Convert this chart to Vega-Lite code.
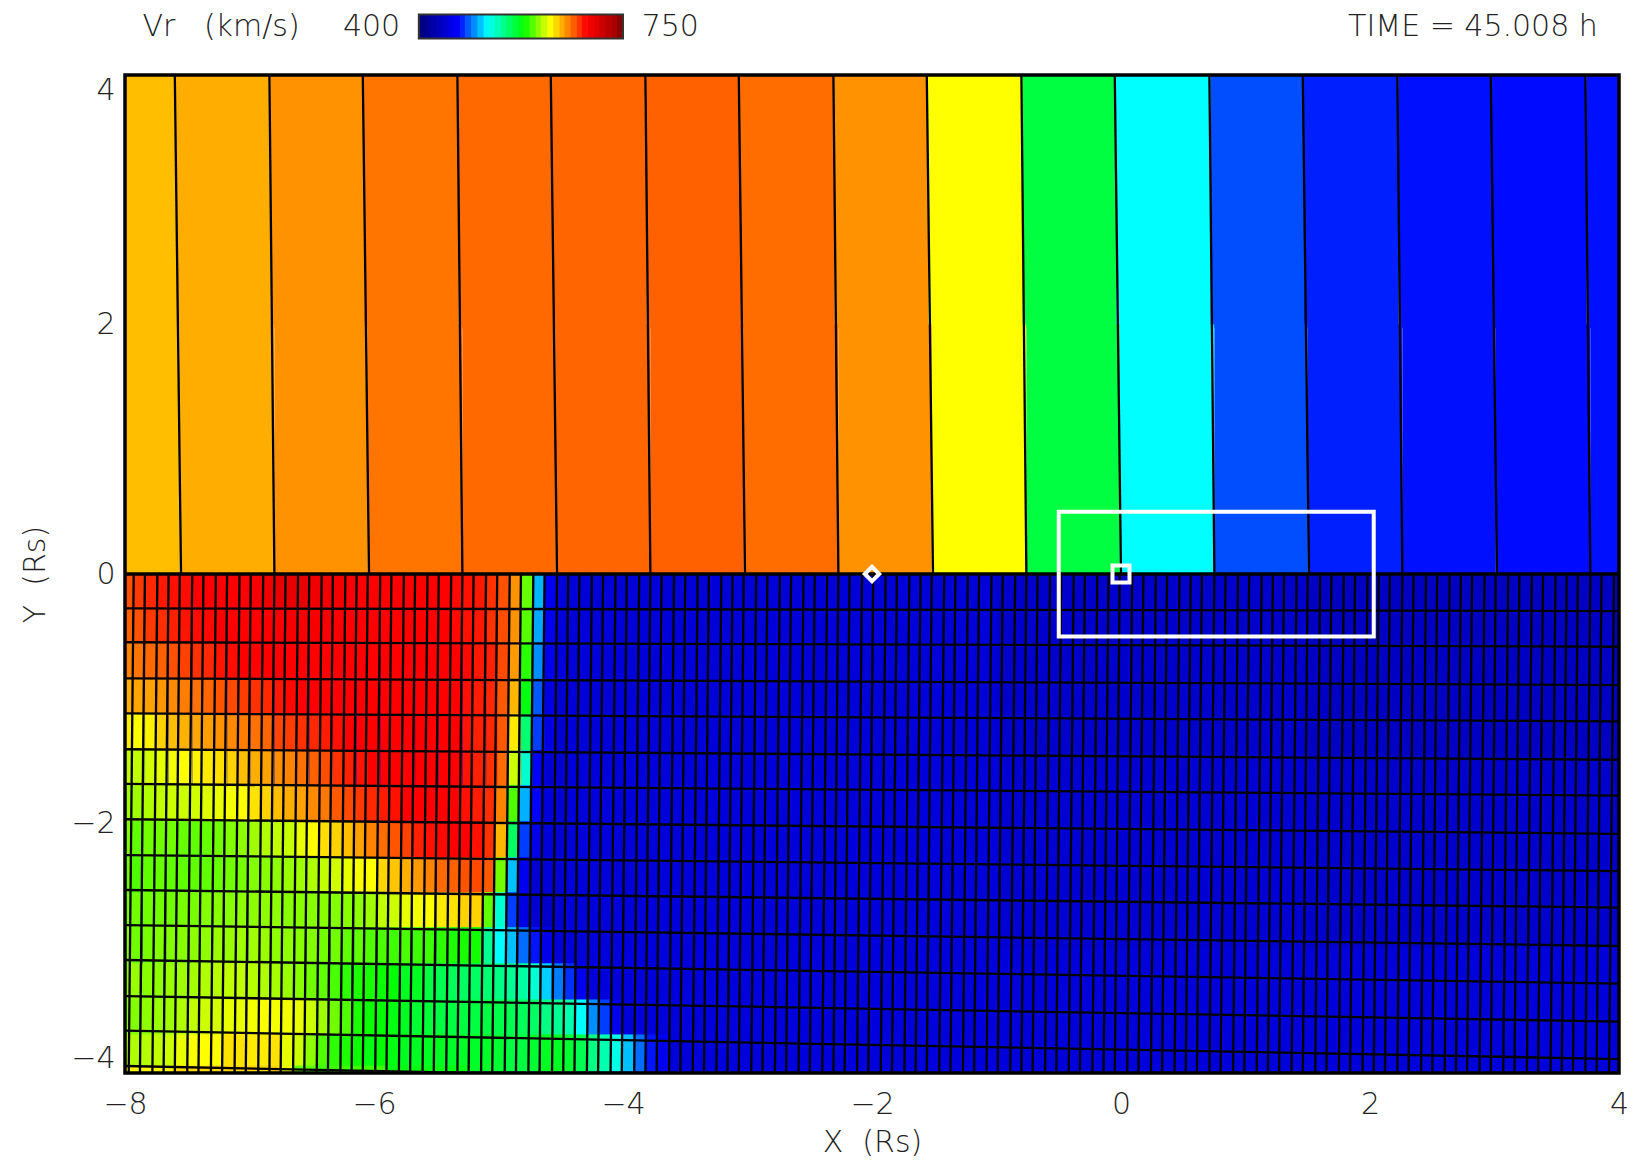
{"$schema":"https://vega.github.io/schema/vega-lite/v6.json","autosize":{"type":"none"},"padding":{"left":125,"top":75,"right":17,"bottom":89},"width":1494,"height":998,"background":"white","config":{"view":{"stroke":null},"axis":{"grid":false,"ticks":false,"domain":false,"labelFont":"DejaVu Sans","titleFont":"DejaVu Sans","labelFontSize":30,"titleFontSize":30,"titleFontWeight":200,"labelFontWeight":200,"labelColor":"#222","titleColor":"#222"}},
"encoding":{"x":{"field":"x","type":"quantitative","scale":{"domain":[-8,4],"nice":false,"zero":false},"axis":{"values":[-8,-6,-4,-2,0,2,4],"title":"X\u00a0\u00a0(Rs)","labelPadding":16,"titlePadding":8,"format":"d","labelFlush":false}},"y":{"field":"y","type":"quantitative","scale":{"domain":[-4,4],"nice":false,"zero":false},"axis":{"values":[-4,-2,0,2,4],"title":"Y\u00a0\u00a0(Rs)","labelPadding":10,"titlePadding":20,"labelFlush":true,"format":"d"}}},
"layer":[
{"data":{"values":[{"x":-8,"x2":-0.98,"y":0,"y2":-1.52,"v":444},{"x":-8,"x2":-0.98,"y":-1.5,"y2":-3.02,"v":445},{"x":-8,"x2":-0.98,"y":-3,"y2":-4,"v":446},{"x":-1,"x2":1.52,"y":0,"y2":-1.52,"v":438},{"x":-1,"x2":1.52,"y":-1.5,"y2":-3.02,"v":441},{"x":-1,"x2":1.52,"y":-3,"y2":-4,"v":445},{"x":1.5,"x2":4,"y":0,"y2":-1.52,"v":433},{"x":1.5,"x2":4,"y":-1.5,"y2":-3.02,"v":438},{"x":1.5,"x2":4,"y":-3,"y2":-4,"v":445}]},"mark":{"type":"rect"},"encoding":{"x2":{"field":"x2"},"y2":{"field":"y2"},"color":{"field":"v","type":"quantitative","legend":null,"scale":{"type":"linear","domain":[400,463,512,575,620,683,750],"range":["#000080","#0000ff","#00ffff","#00ff00","#ffff00","#ff0000","#800000"],"interpolate":"rgb"}}}},
{"data":{"values":[
{"x":-7.98,"y":-0.14,"v":663},{"x":-7.89,"y":-0.14,"v":669},{"x":-7.79,"y":-0.14,"v":673},{"x":-7.7,"y":-0.14,"v":677},{"x":-7.6,"y":-0.14,"v":679},{"x":-7.51,"y":-0.14,"v":680},{"x":-7.41,"y":-0.14,"v":683},{"x":-7.32,"y":-0.14,"v":683},{"x":-7.23,"y":-0.14,"v":683},{"x":-7.13,"y":-0.14,"v":683},{"x":-7.04,"y":-0.14,"v":683},{"x":-6.94,"y":-0.14,"v":687},{"x":-6.85,"y":-0.14,"v":691},{"x":-6.75,"y":-0.14,"v":695},{"x":-6.66,"y":-0.14,"v":695},{"x":-6.57,"y":-0.14,"v":695},{"x":-6.47,"y":-0.14,"v":691},{"x":-6.38,"y":-0.14,"v":691},{"x":-6.28,"y":-0.14,"v":689},{"x":-6.19,"y":-0.14,"v":685},{"x":-6.09,"y":-0.14,"v":683},{"x":-6,"y":-0.14,"v":683},{"x":-5.9,"y":-0.14,"v":683},{"x":-5.81,"y":-0.14,"v":683},{"x":-5.72,"y":-0.14,"v":683},{"x":-5.62,"y":-0.14,"v":683},{"x":-5.53,"y":-0.14,"v":683},{"x":-5.43,"y":-0.14,"v":683},{"x":-5.34,"y":-0.14,"v":681},{"x":-5.24,"y":-0.14,"v":679},{"x":-5.15,"y":-0.14,"v":677},{"x":-5.05,"y":-0.14,"v":671},{"x":-4.96,"y":-0.14,"v":663},{"x":-4.87,"y":-0.14,"v":647},{"x":-4.77,"y":-0.14,"v":593},{"x":-4.68,"y":-0.14,"v":498},{"x":-4.58,"y":-0.14,"v":456},{"x":-4.49,"y":-0.14,"v":445},
{"x":-7.98,"y":-0.42,"v":659},{"x":-7.89,"y":-0.42,"v":663},{"x":-7.79,"y":-0.42,"v":669},{"x":-7.7,"y":-0.42,"v":672},{"x":-7.6,"y":-0.42,"v":675},{"x":-7.51,"y":-0.42,"v":678},{"x":-7.41,"y":-0.42,"v":680},{"x":-7.32,"y":-0.42,"v":681},{"x":-7.23,"y":-0.42,"v":683},{"x":-7.13,"y":-0.42,"v":683},{"x":-7.04,"y":-0.42,"v":683},{"x":-6.94,"y":-0.42,"v":683},{"x":-6.85,"y":-0.42,"v":685},{"x":-6.75,"y":-0.42,"v":685},{"x":-6.66,"y":-0.42,"v":687},{"x":-6.57,"y":-0.42,"v":687},{"x":-6.47,"y":-0.42,"v":687},{"x":-6.38,"y":-0.42,"v":687},{"x":-6.28,"y":-0.42,"v":685},{"x":-6.19,"y":-0.42,"v":683},{"x":-6.09,"y":-0.42,"v":683},{"x":-6,"y":-0.42,"v":683},{"x":-5.9,"y":-0.42,"v":683},{"x":-5.81,"y":-0.42,"v":683},{"x":-5.72,"y":-0.42,"v":683},{"x":-5.62,"y":-0.42,"v":683},{"x":-5.53,"y":-0.42,"v":683},{"x":-5.43,"y":-0.42,"v":683},{"x":-5.34,"y":-0.42,"v":681},{"x":-5.24,"y":-0.42,"v":679},{"x":-5.15,"y":-0.42,"v":677},{"x":-5.05,"y":-0.42,"v":671},{"x":-4.96,"y":-0.42,"v":664},{"x":-4.87,"y":-0.42,"v":647},{"x":-4.77,"y":-0.42,"v":590},{"x":-4.68,"y":-0.42,"v":495},{"x":-4.58,"y":-0.42,"v":455},{"x":-4.49,"y":-0.42,"v":445},
{"x":-7.98,"y":-0.7,"v":651},{"x":-7.89,"y":-0.7,"v":654},{"x":-7.79,"y":-0.7,"v":657},{"x":-7.7,"y":-0.7,"v":659},{"x":-7.6,"y":-0.7,"v":663},{"x":-7.51,"y":-0.7,"v":667},{"x":-7.41,"y":-0.7,"v":671},{"x":-7.32,"y":-0.7,"v":673},{"x":-7.23,"y":-0.7,"v":678},{"x":-7.13,"y":-0.7,"v":680},{"x":-7.04,"y":-0.7,"v":683},{"x":-6.94,"y":-0.7,"v":683},{"x":-6.85,"y":-0.7,"v":683},{"x":-6.75,"y":-0.7,"v":683},{"x":-6.66,"y":-0.7,"v":683},{"x":-6.57,"y":-0.7,"v":683},{"x":-6.47,"y":-0.7,"v":683},{"x":-6.38,"y":-0.7,"v":683},{"x":-6.28,"y":-0.7,"v":683},{"x":-6.19,"y":-0.7,"v":683},{"x":-6.09,"y":-0.7,"v":683},{"x":-6,"y":-0.7,"v":683},{"x":-5.9,"y":-0.7,"v":683},{"x":-5.81,"y":-0.7,"v":683},{"x":-5.72,"y":-0.7,"v":683},{"x":-5.62,"y":-0.7,"v":683},{"x":-5.53,"y":-0.7,"v":683},{"x":-5.43,"y":-0.7,"v":683},{"x":-5.34,"y":-0.7,"v":683},{"x":-5.24,"y":-0.7,"v":681},{"x":-5.15,"y":-0.7,"v":677},{"x":-5.05,"y":-0.7,"v":675},{"x":-4.96,"y":-0.7,"v":665},{"x":-4.87,"y":-0.7,"v":645},{"x":-4.77,"y":-0.7,"v":582},{"x":-4.68,"y":-0.7,"v":490},{"x":-4.58,"y":-0.7,"v":453},{"x":-4.49,"y":-0.7,"v":445},
{"x":-7.98,"y":-0.99,"v":640},{"x":-7.89,"y":-0.99,"v":642},{"x":-7.79,"y":-0.99,"v":643},{"x":-7.7,"y":-0.99,"v":646},{"x":-7.6,"y":-0.99,"v":649},{"x":-7.51,"y":-0.99,"v":652},{"x":-7.41,"y":-0.99,"v":655},{"x":-7.32,"y":-0.99,"v":658},{"x":-7.23,"y":-0.99,"v":662},{"x":-7.13,"y":-0.99,"v":665},{"x":-7.04,"y":-0.99,"v":668},{"x":-6.94,"y":-0.99,"v":671},{"x":-6.85,"y":-0.99,"v":673},{"x":-6.75,"y":-0.99,"v":677},{"x":-6.66,"y":-0.99,"v":681},{"x":-6.57,"y":-0.99,"v":683},{"x":-6.47,"y":-0.99,"v":683},{"x":-6.38,"y":-0.99,"v":683},{"x":-6.28,"y":-0.99,"v":683},{"x":-6.19,"y":-0.99,"v":683},{"x":-6.09,"y":-0.99,"v":683},{"x":-6,"y":-0.99,"v":683},{"x":-5.9,"y":-0.99,"v":683},{"x":-5.81,"y":-0.99,"v":683},{"x":-5.72,"y":-0.99,"v":683},{"x":-5.62,"y":-0.99,"v":683},{"x":-5.53,"y":-0.99,"v":683},{"x":-5.43,"y":-0.99,"v":683},{"x":-5.34,"y":-0.99,"v":683},{"x":-5.24,"y":-0.99,"v":679},{"x":-5.15,"y":-0.99,"v":676},{"x":-5.05,"y":-0.99,"v":673},{"x":-4.96,"y":-0.99,"v":661},{"x":-4.87,"y":-0.99,"v":638},{"x":-4.77,"y":-0.99,"v":571},{"x":-4.68,"y":-0.99,"v":480},{"x":-4.58,"y":-0.99,"v":449},{"x":-4.49,"y":-0.99,"v":441},
{"x":-7.98,"y":-1.27,"v":624},{"x":-7.89,"y":-1.27,"v":620},{"x":-7.79,"y":-1.27,"v":623},{"x":-7.7,"y":-1.27,"v":631},{"x":-7.6,"y":-1.27,"v":636},{"x":-7.51,"y":-1.27,"v":639},{"x":-7.41,"y":-1.27,"v":642},{"x":-7.32,"y":-1.27,"v":644},{"x":-7.23,"y":-1.27,"v":647},{"x":-7.13,"y":-1.27,"v":649},{"x":-7.04,"y":-1.27,"v":652},{"x":-6.94,"y":-1.27,"v":655},{"x":-6.85,"y":-1.27,"v":658},{"x":-6.75,"y":-1.27,"v":666},{"x":-6.66,"y":-1.27,"v":668},{"x":-6.57,"y":-1.27,"v":671},{"x":-6.47,"y":-1.27,"v":673},{"x":-6.38,"y":-1.27,"v":676},{"x":-6.28,"y":-1.27,"v":679},{"x":-6.19,"y":-1.27,"v":683},{"x":-6.09,"y":-1.27,"v":683},{"x":-6,"y":-1.27,"v":683},{"x":-5.9,"y":-1.27,"v":683},{"x":-5.81,"y":-1.27,"v":683},{"x":-5.72,"y":-1.27,"v":683},{"x":-5.62,"y":-1.27,"v":683},{"x":-5.53,"y":-1.27,"v":683},{"x":-5.43,"y":-1.27,"v":683},{"x":-5.34,"y":-1.27,"v":683},{"x":-5.24,"y":-1.27,"v":678},{"x":-5.15,"y":-1.27,"v":675},{"x":-5.05,"y":-1.27,"v":673},{"x":-4.96,"y":-1.27,"v":661},{"x":-4.87,"y":-1.27,"v":625},{"x":-4.77,"y":-1.27,"v":547},{"x":-4.68,"y":-1.27,"v":475},{"x":-4.58,"y":-1.27,"v":449},{"x":-4.49,"y":-1.27,"v":441},
{"x":-7.98,"y":-1.56,"v":609},{"x":-7.89,"y":-1.56,"v":609},{"x":-7.79,"y":-1.56,"v":612},{"x":-7.7,"y":-1.56,"v":615},{"x":-7.6,"y":-1.56,"v":618},{"x":-7.51,"y":-1.56,"v":620},{"x":-7.41,"y":-1.56,"v":623},{"x":-7.32,"y":-1.56,"v":625},{"x":-7.23,"y":-1.56,"v":628},{"x":-7.13,"y":-1.56,"v":631},{"x":-7.04,"y":-1.56,"v":636},{"x":-6.94,"y":-1.56,"v":640},{"x":-6.85,"y":-1.56,"v":643},{"x":-6.75,"y":-1.56,"v":648},{"x":-6.66,"y":-1.56,"v":651},{"x":-6.57,"y":-1.56,"v":655},{"x":-6.47,"y":-1.56,"v":659},{"x":-6.38,"y":-1.56,"v":664},{"x":-6.28,"y":-1.56,"v":671},{"x":-6.19,"y":-1.56,"v":675},{"x":-6.09,"y":-1.56,"v":678},{"x":-6,"y":-1.56,"v":683},{"x":-5.9,"y":-1.56,"v":683},{"x":-5.81,"y":-1.56,"v":683},{"x":-5.72,"y":-1.56,"v":683},{"x":-5.62,"y":-1.56,"v":683},{"x":-5.53,"y":-1.56,"v":683},{"x":-5.43,"y":-1.56,"v":683},{"x":-5.34,"y":-1.56,"v":683},{"x":-5.24,"y":-1.56,"v":678},{"x":-5.15,"y":-1.56,"v":675},{"x":-5.05,"y":-1.56,"v":671},{"x":-4.96,"y":-1.56,"v":656},{"x":-4.87,"y":-1.56,"v":611},{"x":-4.77,"y":-1.56,"v":524},{"x":-4.68,"y":-1.56,"v":463},{"x":-4.58,"y":-1.56,"v":441},{"x":-4.49,"y":-1.56,"v":441},
{"x":-8,"y":-1.84,"v":603},{"x":-7.91,"y":-1.84,"v":603},{"x":-7.81,"y":-1.84,"v":606},{"x":-7.72,"y":-1.84,"v":609},{"x":-7.62,"y":-1.84,"v":611},{"x":-7.53,"y":-1.84,"v":611},{"x":-7.43,"y":-1.84,"v":612},{"x":-7.34,"y":-1.84,"v":614},{"x":-7.25,"y":-1.84,"v":616},{"x":-7.15,"y":-1.84,"v":618},{"x":-7.06,"y":-1.84,"v":620},{"x":-6.96,"y":-1.84,"v":627},{"x":-6.87,"y":-1.84,"v":631},{"x":-6.77,"y":-1.84,"v":636},{"x":-6.68,"y":-1.84,"v":640},{"x":-6.59,"y":-1.84,"v":643},{"x":-6.49,"y":-1.84,"v":649},{"x":-6.4,"y":-1.84,"v":653},{"x":-6.3,"y":-1.84,"v":661},{"x":-6.21,"y":-1.84,"v":665},{"x":-6.11,"y":-1.84,"v":669},{"x":-6.02,"y":-1.84,"v":673},{"x":-5.92,"y":-1.84,"v":676},{"x":-5.83,"y":-1.84,"v":679},{"x":-5.74,"y":-1.84,"v":683},{"x":-5.64,"y":-1.84,"v":683},{"x":-5.55,"y":-1.84,"v":683},{"x":-5.45,"y":-1.84,"v":683},{"x":-5.36,"y":-1.84,"v":683},{"x":-5.26,"y":-1.84,"v":679},{"x":-5.17,"y":-1.84,"v":676},{"x":-5.07,"y":-1.84,"v":672},{"x":-4.98,"y":-1.84,"v":651},{"x":-4.89,"y":-1.84,"v":589},{"x":-4.79,"y":-1.84,"v":497},{"x":-4.7,"y":-1.84,"v":463},{"x":-4.6,"y":-1.84,"v":445},{"x":-4.51,"y":-1.84,"v":441},
{"x":-8,"y":-2.13,"v":598},{"x":-7.91,"y":-2.13,"v":592},{"x":-7.81,"y":-2.13,"v":595},{"x":-7.72,"y":-2.13,"v":595},{"x":-7.62,"y":-2.13,"v":595},{"x":-7.53,"y":-2.13,"v":593},{"x":-7.43,"y":-2.13,"v":592},{"x":-7.34,"y":-2.13,"v":593},{"x":-7.25,"y":-2.13,"v":595},{"x":-7.15,"y":-2.13,"v":598},{"x":-7.06,"y":-2.13,"v":600},{"x":-6.96,"y":-2.13,"v":603},{"x":-6.87,"y":-2.13,"v":606},{"x":-6.77,"y":-2.13,"v":609},{"x":-6.68,"y":-2.13,"v":610},{"x":-6.59,"y":-2.13,"v":616},{"x":-6.49,"y":-2.13,"v":620},{"x":-6.4,"y":-2.13,"v":628},{"x":-6.3,"y":-2.13,"v":631},{"x":-6.21,"y":-2.13,"v":636},{"x":-6.11,"y":-2.13,"v":643},{"x":-6.02,"y":-2.13,"v":651},{"x":-5.92,"y":-2.13,"v":656},{"x":-5.83,"y":-2.13,"v":662},{"x":-5.74,"y":-2.13,"v":667},{"x":-5.64,"y":-2.13,"v":675},{"x":-5.55,"y":-2.13,"v":679},{"x":-5.45,"y":-2.13,"v":681},{"x":-5.36,"y":-2.13,"v":683},{"x":-5.26,"y":-2.13,"v":683},{"x":-5.17,"y":-2.13,"v":679},{"x":-5.07,"y":-2.13,"v":671},{"x":-4.98,"y":-2.13,"v":638},{"x":-4.89,"y":-2.13,"v":551},{"x":-4.79,"y":-2.13,"v":475},{"x":-4.7,"y":-2.13,"v":452},{"x":-4.6,"y":-2.13,"v":445},{"x":-4.51,"y":-2.13,"v":441},
{"x":-8,"y":-2.42,"v":595},{"x":-7.91,"y":-2.42,"v":589},{"x":-7.81,"y":-2.42,"v":592},{"x":-7.72,"y":-2.42,"v":593},{"x":-7.62,"y":-2.42,"v":592},{"x":-7.53,"y":-2.42,"v":592},{"x":-7.43,"y":-2.42,"v":592},{"x":-7.34,"y":-2.42,"v":592},{"x":-7.25,"y":-2.42,"v":593},{"x":-7.15,"y":-2.42,"v":595},{"x":-7.06,"y":-2.42,"v":596},{"x":-6.96,"y":-2.42,"v":598},{"x":-6.87,"y":-2.42,"v":599},{"x":-6.77,"y":-2.42,"v":600},{"x":-6.68,"y":-2.42,"v":602},{"x":-6.59,"y":-2.42,"v":603},{"x":-6.49,"y":-2.42,"v":606},{"x":-6.4,"y":-2.42,"v":609},{"x":-6.3,"y":-2.42,"v":612},{"x":-6.21,"y":-2.42,"v":616},{"x":-6.11,"y":-2.42,"v":619},{"x":-6.02,"y":-2.42,"v":620},{"x":-5.92,"y":-2.42,"v":630},{"x":-5.83,"y":-2.42,"v":634},{"x":-5.74,"y":-2.42,"v":640},{"x":-5.64,"y":-2.42,"v":645},{"x":-5.55,"y":-2.42,"v":651},{"x":-5.45,"y":-2.42,"v":657},{"x":-5.36,"y":-2.42,"v":659},{"x":-5.26,"y":-2.42,"v":663},{"x":-5.17,"y":-2.42,"v":665},{"x":-5.07,"y":-2.42,"v":661},{"x":-4.98,"y":-2.42,"v":595},{"x":-4.89,"y":-2.42,"v":500},{"x":-4.79,"y":-2.42,"v":456},{"x":-4.7,"y":-2.42,"v":441},{"x":-4.6,"y":-2.42,"v":445},{"x":-4.51,"y":-2.42,"v":441},
{"x":-8,"y":-2.7,"v":596},{"x":-7.91,"y":-2.7,"v":595},{"x":-7.81,"y":-2.7,"v":595},{"x":-7.72,"y":-2.7,"v":595},{"x":-7.62,"y":-2.7,"v":595},{"x":-7.53,"y":-2.7,"v":596},{"x":-7.43,"y":-2.7,"v":596},{"x":-7.34,"y":-2.7,"v":598},{"x":-7.25,"y":-2.7,"v":599},{"x":-7.15,"y":-2.7,"v":599},{"x":-7.06,"y":-2.7,"v":600},{"x":-6.96,"y":-2.7,"v":600},{"x":-6.87,"y":-2.7,"v":600},{"x":-6.77,"y":-2.7,"v":600},{"x":-6.68,"y":-2.7,"v":599},{"x":-6.59,"y":-2.7,"v":599},{"x":-6.49,"y":-2.7,"v":599},{"x":-6.4,"y":-2.7,"v":599},{"x":-6.3,"y":-2.7,"v":598},{"x":-6.21,"y":-2.7,"v":599},{"x":-6.11,"y":-2.7,"v":600},{"x":-6.02,"y":-2.7,"v":603},{"x":-5.92,"y":-2.7,"v":609},{"x":-5.83,"y":-2.7,"v":611},{"x":-5.74,"y":-2.7,"v":616},{"x":-5.64,"y":-2.7,"v":618},{"x":-5.55,"y":-2.7,"v":620},{"x":-5.45,"y":-2.7,"v":625},{"x":-5.36,"y":-2.7,"v":627},{"x":-5.26,"y":-2.7,"v":631},{"x":-5.17,"y":-2.7,"v":631},{"x":-5.07,"y":-2.7,"v":592},{"x":-4.98,"y":-2.7,"v":523},{"x":-4.89,"y":-2.7,"v":475},{"x":-4.79,"y":-2.7,"v":449},{"x":-4.7,"y":-2.7,"v":441},{"x":-4.6,"y":-2.7,"v":437},{"x":-4.51,"y":-2.7,"v":441},
{"x":-8,"y":-2.98,"v":599},{"x":-7.91,"y":-2.98,"v":595},{"x":-7.81,"y":-2.98,"v":596},{"x":-7.72,"y":-2.98,"v":598},{"x":-7.62,"y":-2.98,"v":598},{"x":-7.53,"y":-2.98,"v":599},{"x":-7.43,"y":-2.98,"v":600},{"x":-7.34,"y":-2.98,"v":600},{"x":-7.25,"y":-2.98,"v":602},{"x":-7.15,"y":-2.98,"v":602},{"x":-7.06,"y":-2.98,"v":603},{"x":-6.96,"y":-2.98,"v":603},{"x":-6.87,"y":-2.98,"v":602},{"x":-6.77,"y":-2.98,"v":600},{"x":-6.68,"y":-2.98,"v":600},{"x":-6.59,"y":-2.98,"v":599},{"x":-6.49,"y":-2.98,"v":598},{"x":-6.4,"y":-2.98,"v":595},{"x":-6.3,"y":-2.98,"v":595},{"x":-6.21,"y":-2.98,"v":592},{"x":-6.11,"y":-2.98,"v":592},{"x":-6.02,"y":-2.98,"v":589},{"x":-5.92,"y":-2.98,"v":588},{"x":-5.83,"y":-2.98,"v":586},{"x":-5.74,"y":-2.98,"v":588},{"x":-5.64,"y":-2.98,"v":586},{"x":-5.55,"y":-2.98,"v":586},{"x":-5.45,"y":-2.98,"v":583},{"x":-5.36,"y":-2.98,"v":580},{"x":-5.26,"y":-2.98,"v":579},{"x":-5.17,"y":-2.98,"v":578},{"x":-5.07,"y":-2.98,"v":539},{"x":-4.98,"y":-2.98,"v":512},{"x":-4.89,"y":-2.98,"v":500},{"x":-4.79,"y":-2.98,"v":484},{"x":-4.7,"y":-2.98,"v":467},{"x":-4.6,"y":-2.98,"v":452},{"x":-4.51,"y":-2.98,"v":445},
{"x":-8.02,"y":-3.27,"v":598},{"x":-7.93,"y":-3.27,"v":602},{"x":-7.83,"y":-3.27,"v":599},{"x":-7.74,"y":-3.27,"v":600},{"x":-7.64,"y":-3.27,"v":602},{"x":-7.55,"y":-3.27,"v":603},{"x":-7.45,"y":-3.27,"v":604},{"x":-7.36,"y":-3.27,"v":606},{"x":-7.27,"y":-3.27,"v":607},{"x":-7.17,"y":-3.27,"v":609},{"x":-7.08,"y":-3.27,"v":609},{"x":-6.98,"y":-3.27,"v":607},{"x":-6.89,"y":-3.27,"v":606},{"x":-6.79,"y":-3.27,"v":604},{"x":-6.7,"y":-3.27,"v":602},{"x":-6.61,"y":-3.27,"v":599},{"x":-6.51,"y":-3.27,"v":595},{"x":-6.42,"y":-3.27,"v":592},{"x":-6.32,"y":-3.27,"v":588},{"x":-6.23,"y":-3.27,"v":583},{"x":-6.13,"y":-3.27,"v":580},{"x":-6.04,"y":-3.27,"v":579},{"x":-5.94,"y":-3.27,"v":577},{"x":-5.85,"y":-3.27,"v":575},{"x":-5.76,"y":-3.27,"v":567},{"x":-5.66,"y":-3.27,"v":567},{"x":-5.57,"y":-3.27,"v":559},{"x":-5.47,"y":-3.27,"v":555},{"x":-5.38,"y":-3.27,"v":553},{"x":-5.28,"y":-3.27,"v":551},{"x":-5.19,"y":-3.27,"v":551},{"x":-5.09,"y":-3.27,"v":547},{"x":-5,"y":-3.27,"v":543},{"x":-4.91,"y":-3.27,"v":539},{"x":-4.81,"y":-3.27,"v":536},{"x":-4.72,"y":-3.27,"v":523},{"x":-4.62,"y":-3.27,"v":503},{"x":-4.53,"y":-3.27,"v":487},{"x":-4.43,"y":-3.27,"v":472},{"x":-4.34,"y":-3.27,"v":456},{"x":-4.24,"y":-3.27,"v":445},
{"x":-8.02,"y":-3.56,"v":598},{"x":-7.93,"y":-3.56,"v":598},{"x":-7.83,"y":-3.56,"v":600},{"x":-7.74,"y":-3.56,"v":602},{"x":-7.64,"y":-3.56,"v":603},{"x":-7.55,"y":-3.56,"v":606},{"x":-7.45,"y":-3.56,"v":609},{"x":-7.36,"y":-3.56,"v":611},{"x":-7.27,"y":-3.56,"v":612},{"x":-7.17,"y":-3.56,"v":616},{"x":-7.08,"y":-3.56,"v":616},{"x":-6.98,"y":-3.56,"v":618},{"x":-6.89,"y":-3.56,"v":619},{"x":-6.79,"y":-3.56,"v":618},{"x":-6.7,"y":-3.56,"v":618},{"x":-6.61,"y":-3.56,"v":616},{"x":-6.51,"y":-3.56,"v":611},{"x":-6.42,"y":-3.56,"v":603},{"x":-6.32,"y":-3.56,"v":595},{"x":-6.23,"y":-3.56,"v":589},{"x":-6.13,"y":-3.56,"v":580},{"x":-6.04,"y":-3.56,"v":577},{"x":-5.94,"y":-3.56,"v":575},{"x":-5.85,"y":-3.56,"v":571},{"x":-5.76,"y":-3.56,"v":567},{"x":-5.66,"y":-3.56,"v":563},{"x":-5.57,"y":-3.56,"v":561},{"x":-5.47,"y":-3.56,"v":559},{"x":-5.38,"y":-3.56,"v":559},{"x":-5.28,"y":-3.56,"v":559},{"x":-5.19,"y":-3.56,"v":559},{"x":-5.09,"y":-3.56,"v":559},{"x":-5,"y":-3.56,"v":557},{"x":-4.91,"y":-3.56,"v":555},{"x":-4.81,"y":-3.56,"v":553},{"x":-4.72,"y":-3.56,"v":551},{"x":-4.62,"y":-3.56,"v":543},{"x":-4.53,"y":-3.56,"v":539},{"x":-4.43,"y":-3.56,"v":532},{"x":-4.34,"y":-3.56,"v":512},{"x":-4.24,"y":-3.56,"v":490},{"x":-4.15,"y":-3.56,"v":475},{"x":-4.06,"y":-3.56,"v":456},{"x":-3.96,"y":-3.56,"v":445},
{"x":-8.02,"y":-3.84,"v":606},{"x":-7.93,"y":-3.84,"v":606},{"x":-7.83,"y":-3.84,"v":607},{"x":-7.74,"y":-3.84,"v":609},{"x":-7.64,"y":-3.84,"v":611},{"x":-7.55,"y":-3.84,"v":616},{"x":-7.45,"y":-3.84,"v":619},{"x":-7.36,"y":-3.84,"v":620},{"x":-7.27,"y":-3.84,"v":620},{"x":-7.17,"y":-3.84,"v":627},{"x":-7.08,"y":-3.84,"v":627},{"x":-6.98,"y":-3.84,"v":625},{"x":-6.89,"y":-3.84,"v":625},{"x":-6.79,"y":-3.84,"v":627},{"x":-6.7,"y":-3.84,"v":616},{"x":-6.61,"y":-3.84,"v":611},{"x":-6.51,"y":-3.84,"v":600},{"x":-6.42,"y":-3.84,"v":589},{"x":-6.32,"y":-3.84,"v":583},{"x":-6.23,"y":-3.84,"v":580},{"x":-6.13,"y":-3.84,"v":577},{"x":-6.04,"y":-3.84,"v":571},{"x":-5.94,"y":-3.84,"v":575},{"x":-5.85,"y":-3.84,"v":571},{"x":-5.76,"y":-3.84,"v":567},{"x":-5.66,"y":-3.84,"v":567},{"x":-5.57,"y":-3.84,"v":567},{"x":-5.47,"y":-3.84,"v":567},{"x":-5.38,"y":-3.84,"v":565},{"x":-5.28,"y":-3.84,"v":565},{"x":-5.19,"y":-3.84,"v":565},{"x":-5.09,"y":-3.84,"v":565},{"x":-5,"y":-3.84,"v":563},{"x":-4.91,"y":-3.84,"v":559},{"x":-4.81,"y":-3.84,"v":559},{"x":-4.72,"y":-3.84,"v":563},{"x":-4.62,"y":-3.84,"v":567},{"x":-4.53,"y":-3.84,"v":567},{"x":-4.43,"y":-3.84,"v":563},{"x":-4.34,"y":-3.84,"v":555},{"x":-4.24,"y":-3.84,"v":543},{"x":-4.15,"y":-3.84,"v":532},{"x":-4.06,"y":-3.84,"v":518},{"x":-3.96,"y":-3.84,"v":500},{"x":-3.87,"y":-3.84,"v":484},{"x":-3.77,"y":-3.84,"v":467},{"x":-3.68,"y":-3.84,"v":456},{"x":-3.58,"y":-3.84,"v":445},
{"x":-8.02,"y":-4.09,"v":622},{"x":-7.93,"y":-4.09,"v":622},{"x":-7.83,"y":-4.09,"v":622},{"x":-7.74,"y":-4.09,"v":622},{"x":-7.64,"y":-4.09,"v":622},{"x":-7.55,"y":-4.09,"v":630},{"x":-7.45,"y":-4.09,"v":630},{"x":-7.36,"y":-4.09,"v":630},{"x":-7.27,"y":-4.09,"v":630},{"x":-7.17,"y":-4.09,"v":630},{"x":-7.08,"y":-4.09,"v":630},{"x":-6.98,"y":-4.09,"v":630},{"x":-6.89,"y":-4.09,"v":630},{"x":-6.79,"y":-4.09,"v":630},{"x":-6.7,"y":-4.09,"v":616},{"x":-6.61,"y":-4.09,"v":592},{"x":-6.51,"y":-4.09,"v":592},{"x":-6.42,"y":-4.09,"v":586},{"x":-6.32,"y":-4.09,"v":586},{"x":-6.23,"y":-4.09,"v":586},{"x":-6.13,"y":-4.09,"v":586},{"x":-6.04,"y":-4.09,"v":586},{"x":-5.94,"y":-4.09,"v":586},{"x":-5.85,"y":-4.09,"v":571},{"x":-5.76,"y":-4.09,"v":571},{"x":-5.66,"y":-4.09,"v":571},{"x":-5.57,"y":-4.09,"v":571},{"x":-5.47,"y":-4.09,"v":571},{"x":-5.38,"y":-4.09,"v":571},{"x":-5.28,"y":-4.09,"v":571}
]},"mark":{"type":"point","shape":"M-1,-3.05H1V3.05H-1Z","size":149,"filled":true,"opacity":1,"strokeWidth":0,"clip":true},"encoding":{"color":{"field":"v","type":"quantitative","legend":null,"scale":{"type":"linear","domain":[400,463,512,575,620,683,750],"range":["#000080","#0000ff","#00ffff","#00ff00","#ffff00","#ff0000","#800000"],"interpolate":"rgb"}}}},
{"data":{"values":[
{"x":-8,"x2":-7.59,"y":4,"y2":1.97,"v":636},{"x":-7.59,"x2":-6.83,"y":4,"y2":1.97,"v":640},{"x":-6.83,"x2":-6.08,"y":4,"y2":1.97,"v":647},{"x":-6.08,"x2":-5.32,"y":4,"y2":1.97,"v":654},{"x":-5.32,"x2":-4.57,"y":4,"y2":1.97,"v":657},{"x":-4.57,"x2":-3.81,"y":4,"y2":1.97,"v":658},{"x":-3.81,"x2":-3.06,"y":4,"y2":1.97,"v":659},{"x":-3.06,"x2":-2.3,"y":4,"y2":1.97,"v":656},{"x":-2.3,"x2":-1.55,"y":4,"y2":1.97,"v":647},{"x":-1.55,"x2":-0.79,"y":4,"y2":1.97,"v":620},{"x":-0.79,"x2":-0.04,"y":4,"y2":1.97,"v":559},{"x":-0.04,"x2":0.72,"y":4,"y2":1.97,"v":512},{"x":0.72,"x2":1.47,"y":4,"y2":1.97,"v":478},{"x":1.47,"x2":2.23,"y":4,"y2":1.97,"v":469},{"x":2.23,"x2":2.98,"y":4,"y2":1.97,"v":466},{"x":2.98,"x2":3.74,"y":4,"y2":1.97,"v":465},{"x":3.74,"x2":4,"y":4,"y2":1.97,"v":466},
{"x":-8,"x2":-7.56,"y":2,"y2":0,"v":636},{"x":-7.56,"x2":-6.8,"y":2,"y2":0,"v":640},{"x":-6.8,"x2":-6.05,"y":2,"y2":0,"v":647},{"x":-6.05,"x2":-5.29,"y":2,"y2":0,"v":654},{"x":-5.29,"x2":-4.54,"y":2,"y2":0,"v":657},{"x":-4.54,"x2":-3.78,"y":2,"y2":0,"v":658},{"x":-3.78,"x2":-3.03,"y":2,"y2":0,"v":659},{"x":-3.03,"x2":-2.27,"y":2,"y2":0,"v":656},{"x":-2.27,"x2":-1.52,"y":2,"y2":0,"v":647},{"x":-1.52,"x2":-0.76,"y":2,"y2":0,"v":620},{"x":-0.76,"x2":-0.01,"y":2,"y2":0,"v":559},{"x":-0.01,"x2":0.75,"y":2,"y2":0,"v":512},{"x":0.75,"x2":1.5,"y":2,"y2":0,"v":478},{"x":1.5,"x2":2.26,"y":2,"y2":0,"v":469},{"x":2.26,"x2":3.01,"y":2,"y2":0,"v":466},{"x":3.01,"x2":3.77,"y":2,"y2":0,"v":465},{"x":3.77,"x2":4,"y":2,"y2":0,"v":466}
]},"mark":{"type":"rect"},"encoding":{"x2":{"field":"x2"},"y2":{"field":"y2"},"color":{"field":"v","type":"quantitative","legend":null,"scale":{"type":"linear","domain":[400,463,512,575,620,683,750],"range":["#000080","#0000ff","#00ffff","#00ff00","#ffff00","#ff0000","#800000"],"interpolate":"rgb"}}}},
{"data":{"values":[
{"x":-7.6,"x2":-7.55,"y":4,"y2":0},{"x":-6.84,"x2":-6.8,"y":4,"y2":0},{"x":-6.09,"x2":-6.04,"y":4,"y2":0},{"x":-5.33,"x2":-5.29,"y":4,"y2":0},{"x":-4.58,"x2":-4.53,"y":4,"y2":0},{"x":-3.82,"x2":-3.78,"y":4,"y2":0},{"x":-3.07,"x2":-3.02,"y":4,"y2":0},{"x":-2.31,"x2":-2.27,"y":4,"y2":0},{"x":-1.56,"x2":-1.51,"y":4,"y2":0},{"x":-0.8,"x2":-0.76,"y":4,"y2":0},{"x":-0.05,"x2":0,"y":4,"y2":0},{"x":0.71,"x2":0.75,"y":4,"y2":0},{"x":1.46,"x2":1.51,"y":4,"y2":0},{"x":2.22,"x2":2.26,"y":4,"y2":0},{"x":2.97,"x2":3.02,"y":4,"y2":0},{"x":3.73,"x2":3.77,"y":4,"y2":0},
{"x":-8,"x2":4,"y":-0.275,"y2":-0.297},{"x":-8,"x2":4,"y":-0.547,"y2":-0.583},{"x":-8,"x2":4,"y":-0.836,"y2":-0.89},{"x":-8,"x2":4,"y":-1.117,"y2":-1.182},{"x":-8,"x2":4,"y":-1.405,"y2":-1.489},{"x":-8,"x2":4,"y":-1.683,"y2":-1.777},{"x":-8,"x2":4,"y":-1.966,"y2":-2.083},{"x":-8,"x2":4,"y":-2.253,"y2":-2.381},{"x":-8,"x2":4,"y":-2.533,"y2":-2.674},{"x":-8,"x2":4,"y":-2.814,"y2":-2.982},{"x":-8,"x2":4,"y":-3.094,"y2":-3.283},{"x":-8,"x2":4,"y":-3.383,"y2":-3.588},{"x":-8,"x2":4,"y":-3.661,"y2":-3.888},{"x":-8,"x2":4,"y":-3.944,"y2":-4.184},
{"x":-7.93,"x2":-7.97,"y":0,"y2":-4},{"x":-7.84,"x2":-7.88,"y":0,"y2":-4},{"x":-7.74,"x2":-7.78,"y":0,"y2":-4},{"x":-7.65,"x2":-7.69,"y":0,"y2":-4},{"x":-7.56,"x2":-7.6,"y":0,"y2":-4},{"x":-7.46,"x2":-7.5,"y":0,"y2":-4},{"x":-7.37,"x2":-7.41,"y":0,"y2":-4},{"x":-7.27,"x2":-7.31,"y":0,"y2":-4},{"x":-7.18,"x2":-7.22,"y":0,"y2":-4},{"x":-7.08,"x2":-7.12,"y":0,"y2":-4},{"x":-6.99,"x2":-7.03,"y":0,"y2":-4},{"x":-6.89,"x2":-6.93,"y":0,"y2":-4},{"x":-6.8,"x2":-6.84,"y":0,"y2":-4},{"x":-6.71,"x2":-6.75,"y":0,"y2":-4},{"x":-6.61,"x2":-6.65,"y":0,"y2":-4},{"x":-6.52,"x2":-6.56,"y":0,"y2":-4},{"x":-6.42,"x2":-6.46,"y":0,"y2":-4},{"x":-6.33,"x2":-6.37,"y":0,"y2":-4},{"x":-6.23,"x2":-6.27,"y":0,"y2":-4},{"x":-6.14,"x2":-6.18,"y":0,"y2":-4},{"x":-6.05,"x2":-6.09,"y":0,"y2":-4},{"x":-5.95,"x2":-5.99,"y":0,"y2":-4},{"x":-5.86,"x2":-5.9,"y":0,"y2":-4},{"x":-5.76,"x2":-5.8,"y":0,"y2":-4},{"x":-5.67,"x2":-5.71,"y":0,"y2":-4},{"x":-5.57,"x2":-5.61,"y":0,"y2":-4},{"x":-5.48,"x2":-5.52,"y":0,"y2":-4},{"x":-5.38,"x2":-5.42,"y":0,"y2":-4},{"x":-5.29,"x2":-5.33,"y":0,"y2":-4},{"x":-5.2,"x2":-5.24,"y":0,"y2":-4},{"x":-5.1,"x2":-5.14,"y":0,"y2":-4},{"x":-5.01,"x2":-5.05,"y":0,"y2":-4},{"x":-4.91,"x2":-4.95,"y":0,"y2":-4},{"x":-4.82,"x2":-4.86,"y":0,"y2":-4},{"x":-4.72,"x2":-4.76,"y":0,"y2":-4},{"x":-4.63,"x2":-4.67,"y":0,"y2":-4},{"x":-4.53,"x2":-4.57,"y":0,"y2":-4},{"x":-4.44,"x2":-4.48,"y":0,"y2":-4},{"x":-4.35,"x2":-4.39,"y":0,"y2":-4},{"x":-4.25,"x2":-4.29,"y":0,"y2":-4},{"x":-4.16,"x2":-4.2,"y":0,"y2":-4},{"x":-4.06,"x2":-4.1,"y":0,"y2":-4},{"x":-3.97,"x2":-4.01,"y":0,"y2":-4},{"x":-3.87,"x2":-3.91,"y":0,"y2":-4},{"x":-3.78,"x2":-3.82,"y":0,"y2":-4},{"x":-3.69,"x2":-3.73,"y":0,"y2":-4},{"x":-3.59,"x2":-3.63,"y":0,"y2":-4},{"x":-3.5,"x2":-3.54,"y":0,"y2":-4},{"x":-3.4,"x2":-3.44,"y":0,"y2":-4},{"x":-3.31,"x2":-3.35,"y":0,"y2":-4},{"x":-3.21,"x2":-3.25,"y":0,"y2":-4},{"x":-3.12,"x2":-3.16,"y":0,"y2":-4},{"x":-3.03,"x2":-3.07,"y":0,"y2":-4},{"x":-2.93,"x2":-2.97,"y":0,"y2":-4},{"x":-2.84,"x2":-2.88,"y":0,"y2":-4},{"x":-2.74,"x2":-2.78,"y":0,"y2":-4},{"x":-2.65,"x2":-2.69,"y":0,"y2":-4},{"x":-2.55,"x2":-2.59,"y":0,"y2":-4},{"x":-2.46,"x2":-2.5,"y":0,"y2":-4},{"x":-2.36,"x2":-2.4,"y":0,"y2":-4},{"x":-2.27,"x2":-2.31,"y":0,"y2":-4},{"x":-2.18,"x2":-2.22,"y":0,"y2":-4},{"x":-2.08,"x2":-2.12,"y":0,"y2":-4},{"x":-1.99,"x2":-2.03,"y":0,"y2":-4},{"x":-1.89,"x2":-1.93,"y":0,"y2":-4},{"x":-1.8,"x2":-1.84,"y":0,"y2":-4},{"x":-1.7,"x2":-1.74,"y":0,"y2":-4},{"x":-1.61,"x2":-1.65,"y":0,"y2":-4},{"x":-1.52,"x2":-1.56,"y":0,"y2":-4},{"x":-1.42,"x2":-1.46,"y":0,"y2":-4},{"x":-1.33,"x2":-1.37,"y":0,"y2":-4},{"x":-1.23,"x2":-1.27,"y":0,"y2":-4},{"x":-1.14,"x2":-1.18,"y":0,"y2":-4},{"x":-1.04,"x2":-1.08,"y":0,"y2":-4},{"x":-0.95,"x2":-0.99,"y":0,"y2":-4},{"x":-0.85,"x2":-0.89,"y":0,"y2":-4},{"x":-0.76,"x2":-0.8,"y":0,"y2":-4},{"x":-0.67,"x2":-0.71,"y":0,"y2":-4},{"x":-0.57,"x2":-0.61,"y":0,"y2":-4},{"x":-0.48,"x2":-0.52,"y":0,"y2":-4},{"x":-0.38,"x2":-0.42,"y":0,"y2":-4},{"x":-0.29,"x2":-0.33,"y":0,"y2":-4},{"x":-0.19,"x2":-0.23,"y":0,"y2":-4},{"x":-0.1,"x2":-0.14,"y":0,"y2":-4},{"x":-0.01,"x2":-0.05,"y":0,"y2":-4},{"x":0.09,"x2":0.05,"y":0,"y2":-4},{"x":0.18,"x2":0.14,"y":0,"y2":-4},{"x":0.28,"x2":0.24,"y":0,"y2":-4},{"x":0.37,"x2":0.33,"y":0,"y2":-4},{"x":0.47,"x2":0.43,"y":0,"y2":-4},{"x":0.56,"x2":0.52,"y":0,"y2":-4},{"x":0.65,"x2":0.61,"y":0,"y2":-4},{"x":0.75,"x2":0.71,"y":0,"y2":-4},{"x":0.84,"x2":0.8,"y":0,"y2":-4},{"x":0.94,"x2":0.9,"y":0,"y2":-4},{"x":1.03,"x2":0.99,"y":0,"y2":-4},{"x":1.13,"x2":1.09,"y":0,"y2":-4},{"x":1.22,"x2":1.18,"y":0,"y2":-4},{"x":1.31,"x2":1.27,"y":0,"y2":-4},{"x":1.41,"x2":1.37,"y":0,"y2":-4},{"x":1.5,"x2":1.46,"y":0,"y2":-4},{"x":1.6,"x2":1.56,"y":0,"y2":-4},{"x":1.69,"x2":1.65,"y":0,"y2":-4},{"x":1.79,"x2":1.75,"y":0,"y2":-4},{"x":1.88,"x2":1.84,"y":0,"y2":-4},{"x":1.98,"x2":1.94,"y":0,"y2":-4},{"x":2.07,"x2":2.03,"y":0,"y2":-4},{"x":2.16,"x2":2.12,"y":0,"y2":-4},{"x":2.26,"x2":2.22,"y":0,"y2":-4},{"x":2.35,"x2":2.31,"y":0,"y2":-4},{"x":2.45,"x2":2.41,"y":0,"y2":-4},{"x":2.54,"x2":2.5,"y":0,"y2":-4},{"x":2.64,"x2":2.6,"y":0,"y2":-4},{"x":2.73,"x2":2.69,"y":0,"y2":-4},{"x":2.82,"x2":2.78,"y":0,"y2":-4},{"x":2.92,"x2":2.88,"y":0,"y2":-4},{"x":3.01,"x2":2.97,"y":0,"y2":-4},{"x":3.11,"x2":3.07,"y":0,"y2":-4},{"x":3.2,"x2":3.16,"y":0,"y2":-4},{"x":3.3,"x2":3.26,"y":0,"y2":-4},{"x":3.39,"x2":3.35,"y":0,"y2":-4},{"x":3.49,"x2":3.45,"y":0,"y2":-4},{"x":3.58,"x2":3.54,"y":0,"y2":-4},{"x":3.67,"x2":3.63,"y":0,"y2":-4},{"x":3.77,"x2":3.73,"y":0,"y2":-4},{"x":3.86,"x2":3.82,"y":0,"y2":-4},{"x":3.96,"x2":3.92,"y":0,"y2":-4}
]},"mark":{"type":"rule","color":"#000","strokeWidth":2.3,"clip":true},"encoding":{"x2":{"field":"x2"},"y2":{"field":"y2"}}},
{"data":{"values":[{"x":-8,"x2":4,"y":0,"y2":0}]},"mark":{"type":"rule","color":"#000","strokeWidth":3.5},"encoding":{"x2":{"field":"x2"},"y2":{"field":"y2"}}},
{"data":{"values":[{"x":-8,"x2":4,"y":-4,"y2":4}]},"mark":{"type":"rect","filled":false,"stroke":"#000","strokeWidth":3.5},"encoding":{"x2":{"field":"x2"},"y2":{"field":"y2"}}},
{"data":{"values":[{"x":-0.5,"x2":2.03,"y":0.5,"y2":-0.5}]},"mark":{"type":"rect","filled":false,"stroke":"#fff","strokeWidth":4},"encoding":{"x2":{"field":"x2"},"y2":{"field":"y2"}}},
{"data":{"values":[{"x":0,"y":0}]},"mark":{"type":"point","shape":"square","size":289,"filled":false,"opacity":1,"stroke":"#fff","strokeWidth":4}},
{"data":{"values":[{"x":-2,"y":0}]},"mark":{"type":"point","shape":"diamond","size":207,"filled":false,"opacity":1,"stroke":"#fff","strokeWidth":4}},
{"data":{"values":[
{"x":-5.64,"x2":-5.58,"y":4.484,"y2":4.292,"v":400},{"x":-5.59,"x2":-5.54,"y":4.484,"y2":4.292,"v":410},{"x":-5.55,"x2":-5.49,"y":4.484,"y2":4.292,"v":420},{"x":-5.5,"x2":-5.44,"y":4.484,"y2":4.292,"v":430},{"x":-5.45,"x2":-5.4,"y":4.484,"y2":4.292,"v":440},{"x":-5.41,"x2":-5.35,"y":4.484,"y2":4.292,"v":450},{"x":-5.36,"x2":-5.3,"y":4.484,"y2":4.292,"v":460},{"x":-5.31,"x2":-5.26,"y":4.484,"y2":4.292,"v":470},{"x":-5.27,"x2":-5.21,"y":4.484,"y2":4.292,"v":480},{"x":-5.22,"x2":-5.16,"y":4.484,"y2":4.292,"v":490},{"x":-5.17,"x2":-5.11,"y":4.484,"y2":4.292,"v":500},{"x":-5.12,"x2":-5.07,"y":4.484,"y2":4.292,"v":510},{"x":-5.08,"x2":-5.02,"y":4.484,"y2":4.292,"v":520},{"x":-5.03,"x2":-4.97,"y":4.484,"y2":4.292,"v":530},{"x":-4.98,"x2":-4.93,"y":4.484,"y2":4.292,"v":540},{"x":-4.94,"x2":-4.88,"y":4.484,"y2":4.292,"v":550},{"x":-4.89,"x2":-4.83,"y":4.484,"y2":4.292,"v":560},{"x":-4.84,"x2":-4.79,"y":4.484,"y2":4.292,"v":570},{"x":-4.8,"x2":-4.74,"y":4.484,"y2":4.292,"v":580},{"x":-4.75,"x2":-4.69,"y":4.484,"y2":4.292,"v":590},{"x":-4.7,"x2":-4.65,"y":4.484,"y2":4.292,"v":600},{"x":-4.66,"x2":-4.6,"y":4.484,"y2":4.292,"v":610},{"x":-4.61,"x2":-4.55,"y":4.484,"y2":4.292,"v":620},{"x":-4.56,"x2":-4.5,"y":4.484,"y2":4.292,"v":630},{"x":-4.51,"x2":-4.46,"y":4.484,"y2":4.292,"v":640},{"x":-4.47,"x2":-4.41,"y":4.484,"y2":4.292,"v":650},{"x":-4.42,"x2":-4.36,"y":4.484,"y2":4.292,"v":660},{"x":-4.37,"x2":-4.32,"y":4.484,"y2":4.292,"v":670},{"x":-4.33,"x2":-4.27,"y":4.484,"y2":4.292,"v":680},{"x":-4.28,"x2":-4.22,"y":4.484,"y2":4.292,"v":690},{"x":-4.23,"x2":-4.18,"y":4.484,"y2":4.292,"v":700},{"x":-4.19,"x2":-4.13,"y":4.484,"y2":4.292,"v":710},{"x":-4.14,"x2":-4.08,"y":4.484,"y2":4.292,"v":720},{"x":-4.09,"x2":-4.04,"y":4.484,"y2":4.292,"v":730},{"x":-4.05,"x2":-4,"y":4.484,"y2":4.292,"v":745}
]},"mark":{"type":"rect"},"encoding":{"x2":{"field":"x2"},"y2":{"field":"y2"},"color":{"field":"v","type":"quantitative","legend":null,"scale":{"type":"linear","domain":[400,463,512,575,620,683,750],"range":["#000080","#0000ff","#00ffff","#00ff00","#ffff00","#ff0000","#800000"],"interpolate":"rgb"}}}},
{"data":{"values":[{"x":-5.64,"x2":-4,"y":4.484,"y2":4.292}]},"mark":{"type":"rect","filled":false,"stroke":"#333","strokeWidth":2},"encoding":{"x2":{"field":"x2"},"y2":{"field":"y2"}}},
{"data":{"values":[{"x":-7.86,"y":4.385,"t":"Vr\u00a0\u00a0\u00a0(km/s)"},{"x":-3.85,"y":4.385,"t":"750"}]},"mark":{"type":"text","align":"left","baseline":"middle","font":"DejaVu Sans","fontSize":30,"fontWeight":200,"color":"#222"},"encoding":{"text":{"field":"t"}}},
{"data":{"values":[{"x":-5.79,"y":4.385,"t":"400"},{"x":3.83,"y":4.385,"t":"TIME\u00a0=\u00a045.008\u00a0h"}]},"mark":{"type":"text","align":"right","baseline":"middle","font":"DejaVu Sans","fontSize":30,"fontWeight":200,"color":"#222"},"encoding":{"text":{"field":"t"}}}
]}
